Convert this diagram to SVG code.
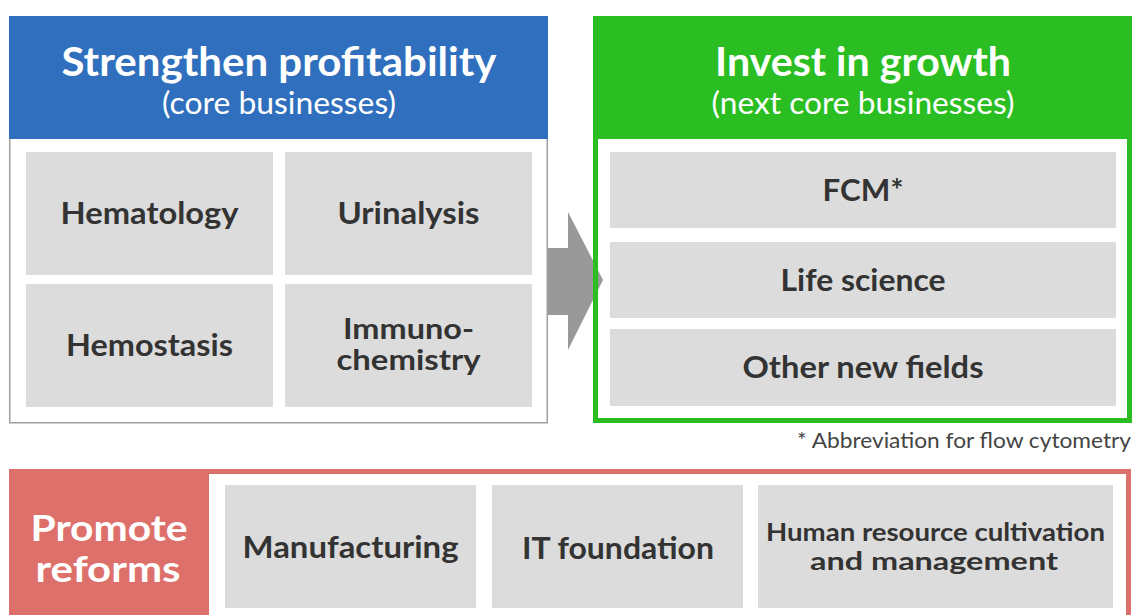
<svg xmlns="http://www.w3.org/2000/svg" width="1132" height="615" viewBox="0 0 1132 615">
<style>
.cell{fill:#dcdcdc}
.lbl{font-family:Lato,"Open Sans","Liberation Sans",sans-serif;font-weight:700;fill:#333;text-anchor:middle}
.ttl{font-family:Lato,"Open Sans","Liberation Sans",sans-serif;font-weight:700;fill:#fff;text-anchor:middle}
.sub{font-family:Lato,"Open Sans","Liberation Sans",sans-serif;font-weight:400;fill:#fff;text-anchor:middle}
</style>
<rect width="1132" height="615" fill="#fff"/>
<g id="strengthen">
<rect x="9.75" y="16.75" width="537.5" height="406" fill="#fff" stroke="#a0a0a0" stroke-width="1.5"/>
<rect x="9" y="16" width="539" height="123" fill="#2f6fbd"/>
<text class="ttl" x="279" y="76" font-size="41" textLength="435" lengthAdjust="spacingAndGlyphs">Strengthen profitability</text>
<text class="sub" x="279" y="114" font-size="31" textLength="234" lengthAdjust="spacingAndGlyphs">(core businesses)</text>
</g>
<g id="hematology"><rect class="cell" x="26" y="152" width="247" height="123"/><text class="lbl" x="149.5" y="224" font-size="30" textLength="178" lengthAdjust="spacingAndGlyphs">Hematology</text></g>
<g id="urinalysis"><rect class="cell" x="285" y="152" width="247" height="123"/><text class="lbl" x="408.5" y="224" font-size="30" textLength="142" lengthAdjust="spacingAndGlyphs">Urinalysis</text></g>
<g id="hemostasis"><rect class="cell" x="26" y="284" width="247" height="123"/><text class="lbl" x="149.5" y="356" font-size="30" textLength="167" lengthAdjust="spacingAndGlyphs">Hemostasis</text></g>
<g id="immunochemistry"><rect class="cell" x="285" y="284" width="247" height="123"/><text class="lbl" x="408.5" y="339" font-size="28" textLength="131" lengthAdjust="spacingAndGlyphs">Immuno-</text><text class="lbl" x="408.5" y="370" font-size="28" textLength="144" lengthAdjust="spacingAndGlyphs">chemistry</text></g>
<g id="invest">
<rect x="593" y="16" width="539" height="407" fill="#fff"/>
<rect x="593" y="16" width="539" height="123" fill="#2bbe23"/>
<text class="ttl" x="863" y="76" font-size="41" textLength="296" lengthAdjust="spacingAndGlyphs">Invest in growth</text>
<text class="sub" x="863" y="114" font-size="31" textLength="303" lengthAdjust="spacingAndGlyphs">(next core businesses)</text>
</g>
<g id="fcm"><rect class="cell" x="610" y="152" width="506" height="76"/><text class="lbl" x="863" y="201" font-size="30" textLength="81" lengthAdjust="spacingAndGlyphs">FCM*</text></g>
<g id="lifescience"><rect class="cell" x="610" y="242" width="506" height="76"/><text class="lbl" x="863" y="291" font-size="30" textLength="165" lengthAdjust="spacingAndGlyphs">Life science</text></g>
<g id="othernew"><rect class="cell" x="610" y="329" width="506" height="77"/><text class="lbl" x="863" y="378" font-size="30" textLength="241" lengthAdjust="spacingAndGlyphs">Other new fields</text></g>
<g id="connectors">
<polygon points="548,248 568,248 568,212 603,280 568,350 568,315 548,315" fill="#999"/>
</g>
<rect x="595.5" y="18.5" width="534" height="402" fill="none" stroke="#2bbe23" stroke-width="5"/>
<text x="1131" y="448" font-family="Lato,'Open Sans','Liberation Sans',sans-serif" font-size="21" fill="#444" text-anchor="end" textLength="334" lengthAdjust="spacingAndGlyphs">* Abbreviation for flow cytometry</text>
<g id="reforms">
<rect x="11.5" y="471.5" width="1117" height="170" fill="#fff" stroke="#de706b" stroke-width="5"/>
<rect x="9" y="469" width="200" height="146" fill="#de706b"/>
<text class="ttl" x="109" y="541" font-size="36" textLength="157" lengthAdjust="spacingAndGlyphs">Promote</text>
<text class="ttl" x="108" y="582" font-size="36" textLength="145" lengthAdjust="spacingAndGlyphs">reforms</text>
</g>
<g id="manufacturing"><rect class="cell" x="225" y="485" width="251" height="123"/><text class="lbl" x="350.5" y="558" font-size="31" textLength="216" lengthAdjust="spacingAndGlyphs">Manufacturing</text></g>
<g id="itfoundation"><rect class="cell" x="492" y="485" width="251" height="123"/><text class="lbl" x="618" y="559" font-size="31" textLength="192" lengthAdjust="spacingAndGlyphs">IT foundation</text></g>
<g id="humanresource"><rect class="cell" x="758" y="485" width="355" height="123"/><text class="lbl" x="935.5" y="541" font-size="25" textLength="339" lengthAdjust="spacingAndGlyphs">Human resource cultivation</text><text class="lbl" x="934" y="570" font-size="25" textLength="248" lengthAdjust="spacingAndGlyphs">and management</text></g>
</svg>
